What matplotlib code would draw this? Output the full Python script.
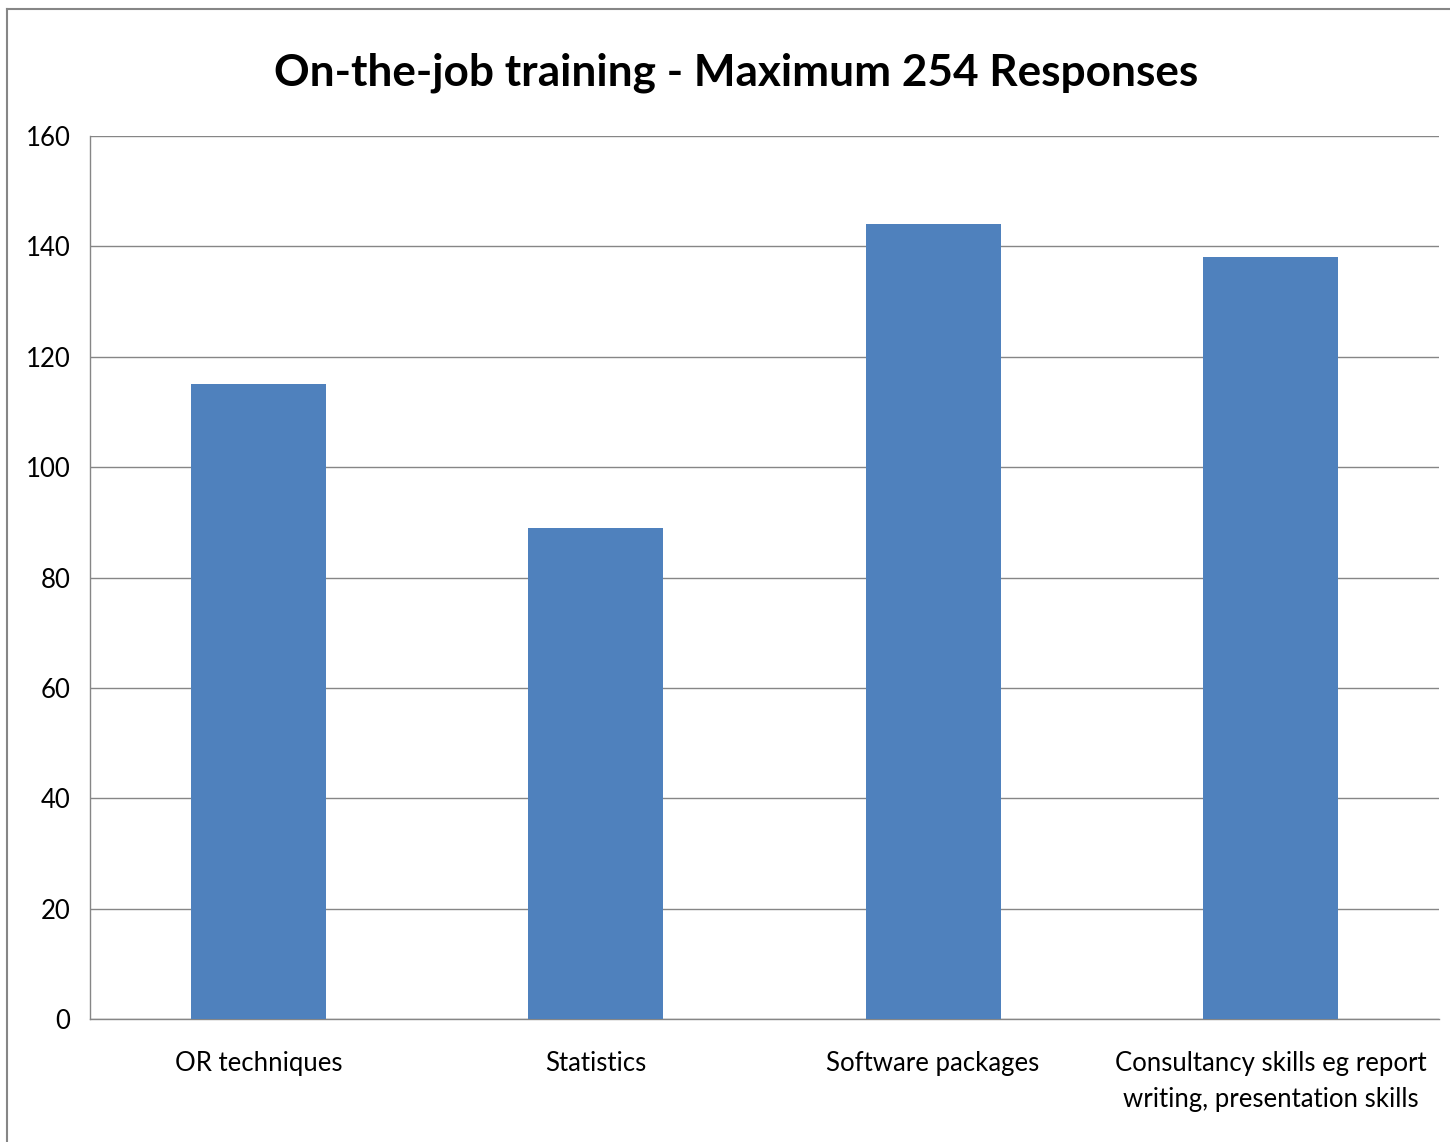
import numpy as np
import matplotlib.pyplot as plt
from matplotlib.lines import Line2D

# -----------------------------
# Data
# -----------------------------
categories = ["OR techniques", "Statistics", "Software packages",
              "Consultancy skills eg report\nwriting, presentation skills"]
responses = [115, 89, 144, 138]
y_ticks = [0, 20, 40, 60, 80, 100, 120, 140, 160]

plt.rcParams["font.family"] = ["Lato", "DejaVu Sans"]

fig = plt.figure(figsize=(14.5, 11.42), dpi=100)
ax = fig.add_axes([90 / 1450, 1 - 1019 / 1142, (1439 - 90) / 1450, (1019 - 136) / 1142])

x = np.arange(len(categories))
ax.bar(x, responses, width=0.40, color="#4f81bd", zorder=3)

ax.set_xlim(-0.5, len(categories) - 0.5)
ax.set_ylim(0, 160)
ax.set_yticks(y_ticks)
ax.set_xticks(x)
ax.set_xticklabels(categories, fontsize=18.5, linespacing=1.55)
ax.tick_params(axis="y", labelsize=18.5, length=0, pad=14)
ax.tick_params(axis="x", length=0, pad=23)

ax.yaxis.grid(True, color="#868686", linewidth=1, zorder=0)
for side in ["top", "right"]:
    ax.spines[side].set_visible(False)
for side in ["left", "bottom"]:
    ax.spines[side].set_color("#868686")
    ax.spines[side].set_linewidth(1)

fig.text(736.5 / 1450, 1 - 73 / 1142, "On-the-job training - Maximum 254 Responses",
         ha="center", va="center", fontsize=31.8, fontweight="bold")

# chart frame (only top and left edges inside the image)
fig.add_artist(Line2D([7 / 1450, 7 / 1450], [0, 1 - 9 / 1142], color="#868686", lw=1.5))
fig.add_artist(Line2D([7 / 1450, 1], [1 - 9 / 1142, 1 - 9 / 1142], color="#868686", lw=1.5))

fig.savefig("out.png", dpi=100)
